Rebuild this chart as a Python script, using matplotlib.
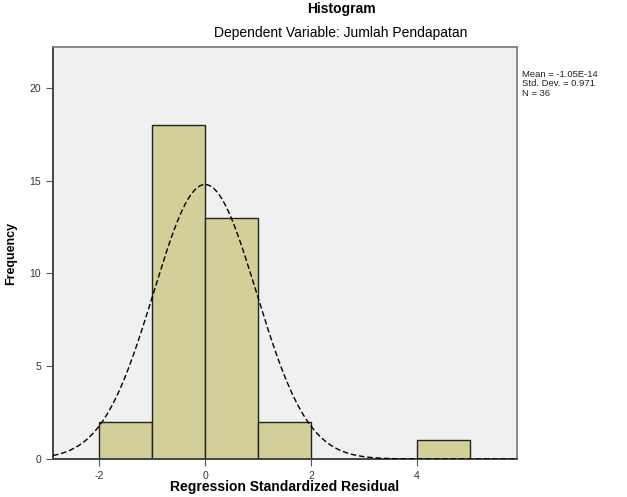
import numpy as np
import matplotlib.pyplot as plt

plt.rcParams['font.family'] = ['Liberation Sans', 'DejaVu Sans']
plt.rcParams['axes.unicode_minus'] = False

# histogram of standardized residuals (bin edges and counts)
bin_left = [-2, -1, 0, 1, 4]
counts = [2, 18, 13, 2, 1]
bin_width = 1.0
mean = -1.05e-14
std = 0.971
n = 36
stats_text = "Mean = -1.05E-14\nStd. Dev. = 0.971\nN = 36"

fig = plt.figure(figsize=(6.27, 4.97), dpi=100)
ax = fig.add_axes([53/627, 1-459/497, 464/627, 412/497])
ax.set_facecolor('#f0f0f0')

ax.bar(bin_left, counts, width=bin_width, align='edge',
       color='#d3cf98', edgecolor='#222222', linewidth=1.0, zorder=2)

xs = np.linspace(-2.87, 5.89, 400)
pdf = n * bin_width / (std * np.sqrt(2*np.pi)) * np.exp(-0.5*((xs-mean)/std)**2)
ax.plot(xs, pdf, color='black', linestyle=(0, (4, 2)), linewidth=1.0, zorder=3)

ax.set_xlim(-2.87, 5.89)
ax.set_ylim(0, 22.2)
ax.set_xticks([-2, 0, 2, 4])
ax.set_yticks([0, 5, 10, 15, 20])
ax.tick_params(direction='out', length=5, width=0.8, colors='#555555',
               labelsize=7.5, labelcolor='#333333')
for side in ['top', 'right']:
    ax.spines[side].set_color('#777777')
    ax.spines[side].set_linewidth(1.2)
for side in ['left', 'bottom']:
    ax.spines[side].set_color('#444444')
    ax.spines[side].set_linewidth(1.4)

ax.set_ylabel('Frequency', fontsize=9, fontweight='bold', labelpad=9)

fig.text(341/627, 1-2/497, 'Histogram', ha='center', va='top',
         fontsize=10, fontweight='bold')
fig.text(341/627, 1-33/497, 'Dependent Variable: Jumlah Pendapatan',
         ha='center', va='center', fontsize=10)
fig.text(285/627, 3/497, 'Regression Standardized Residual',
         ha='center', va='bottom', fontsize=10, fontweight='bold')
fig.text(522/627, 1-70/497, stats_text, ha='left', va='top',
         fontsize=6.8, linespacing=1.05, color='#222222')

fig.savefig('out.png', dpi=100)
